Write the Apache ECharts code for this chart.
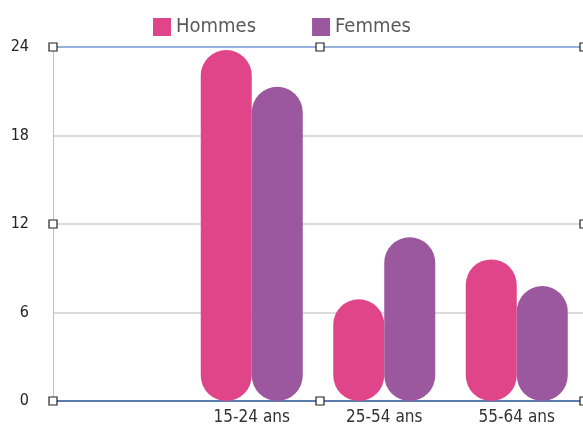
<!DOCTYPE html>
<html>
<head>
<meta charset="utf-8">
<script src="https://cdn.jsdelivr.net/npm/echarts@6/dist/echarts.min.js"></script>
<style>
  html, body { margin: 0; padding: 0; background: #fff; }
  #chart { width: 583px; height: 430px; }
</style>
</head>
<body>
<div id="chart"></div>
<script>
const categories = ['', '15-24 ans', '25-54 ans', '55-64 ans']
const hommes = [null, 23.8, 6.9, 9.6]
const femmes = [null, 21.3, 11.1, 7.8]
const yTicks = [0, 6, 12, 18, 24]

const chart = echarts.init(document.getElementById('chart'))

const font = '"DejaVu Sans Condensed", "Noto Sans", sans-serif'
const gridLeft = 53, gridTop = 47, gridBottom = 29, gridRight = -4, W = 583, H = 430

function handle(x, y) {
  return {
    type: 'rect',
    shape: { x: x - 4, y: y - 4, width: 8, height: 8 },
    style: { fill: '#fff', stroke: '#222', lineWidth: 1.2 },
    z: 100
  }
}

const midX = Math.round((gridLeft + W - gridRight) / 2)
const midY = Math.round((gridTop + H - gridBottom) / 2)
const botY = H - gridBottom

const option = {
  backgroundColor: '#fff',
  animation: false,
  textStyle: { fontFamily: font },
  legend: {
    top: 12,
    left: 148,
    itemWidth: 18,
    itemHeight: 18,
    itemGap: 56,
    icon: 'rect',
    textStyle: { fontSize: 20, color: '#5a5a5a', fontFamily: font },
    data: ['Hommes', 'Femmes']
  },
  grid: { left: gridLeft, right: gridRight, top: gridTop, bottom: gridBottom },
  xAxis: {
    type: 'category',
    data: categories,
    axisLine: { lineStyle: { color: '#2F5E9E', width: 1.5 } },
    axisTick: { show: false },
    axisLabel: { fontSize: 17, color: '#333', margin: 8, fontFamily: font }
  },
  yAxis: {
    type: 'value',
    min: yTicks[0],
    max: yTicks[yTicks.length - 1],
    interval: 6,
    axisLine: { show: true, lineStyle: { color: '#A9C3E6' } },
    axisTick: { show: false },
    axisLabel: { fontSize: 16, color: '#222', margin: 24, fontFamily: font },
    splitLine: { lineStyle: { color: '#cfcfcf', width: 1.5 } }
  },
  series: [
    {
      name: 'Hommes',
      type: 'bar',
      data: hommes,
      barWidth: 51,
      barGap: '0%',
      itemStyle: { color: '#E0458A', borderRadius: 26 }
    },
    {
      name: 'Femmes',
      type: 'bar',
      data: femmes,
      barWidth: 51,
      itemStyle: { color: '#9B589E', borderRadius: 26 }
    }
  ],
  graphic: [
    {
      type: 'line',
      shape: { x1: gridLeft, y1: gridTop, x2: W, y2: gridTop },
      style: { stroke: '#7FA3DA', lineWidth: 1.5 },
      z: 99
    },
    handle(gridLeft, gridTop),
    handle(midX, gridTop),
    handle(W + 1, gridTop),
    handle(gridLeft, midY),
    handle(W + 1, midY),
    handle(gridLeft, botY),
    handle(midX, botY),
    handle(W + 1, botY)
  ]
}

chart.setOption(option)
</script>
</body>
</html>
